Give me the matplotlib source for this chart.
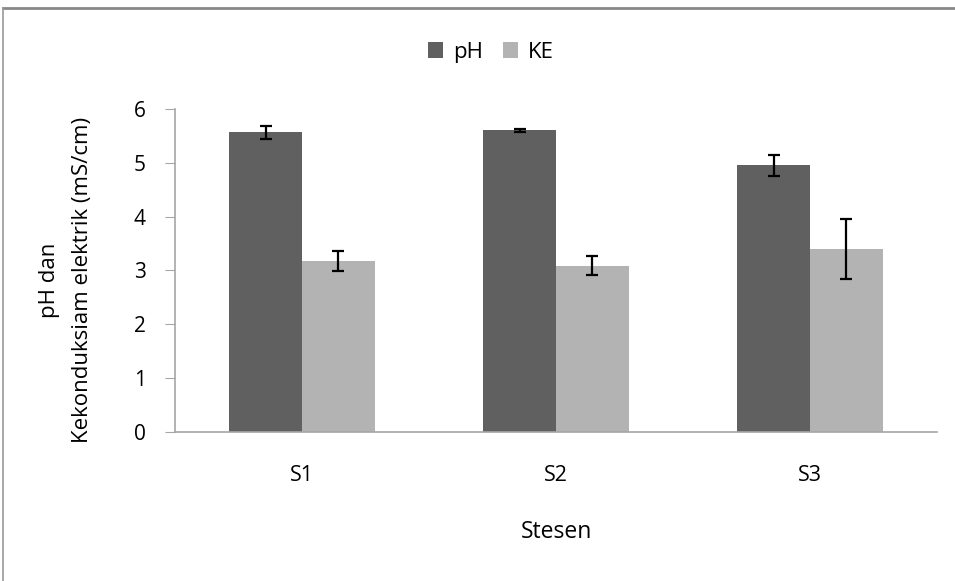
import matplotlib.pyplot as plt
import numpy as np
from matplotlib.lines import Line2D

stations = ['S1', 'S2', 'S3']
ph = [5.57, 5.60, 4.95]
ph_err = [0.12, 0.02, 0.20]
ke = [3.18, 3.09, 3.40]
ke_err = [0.19, 0.18, 0.55]

plt.rcParams['font.family'] = ['Open Sans', 'DejaVu Sans']

fig = plt.figure(figsize=(9.55, 5.81), dpi=100)
ax = fig.add_axes([0.1832, 0.2565, 0.798, 0.556])

x = np.arange(len(stations))
w = 1 / 3.5
err_kw = dict(ecolor='black', elinewidth=1.6, capsize=4, capthick=1.6)
ax.bar(x - w / 2, ph, w, color='#606060', label='pH', yerr=ph_err, error_kw=err_kw)
ax.bar(x + w / 2, ke, w, color='#b3b3b3', label='KE', yerr=ke_err, error_kw=err_kw)

ax.set_xlim(-0.5, 2.5)
ax.set_ylim(0, 6)
ax.set_yticks(range(0, 7))
ax.set_xticks(x)
ax.set_xticklabels(stations)
for s in ['top', 'right']:
    ax.spines[s].set_visible(False)
for s in ['left', 'bottom']:
    ax.spines[s].set_color('#a6a6a6')
    ax.spines[s].set_linewidth(1.2)
ax.tick_params(axis='y', colors='#a6a6a6', labelcolor='black', labelsize=15, length=7, pad=14)
ax.tick_params(axis='x', length=0, labelsize=15.5, pad=24)
ax.set_xlabel('Stesen', fontsize=16.5, labelpad=24)
ax.set_ylabel('pH dan\nKekonduksiam elektrik (mS/cm)', fontsize=16, linespacing=1.7)
ax.yaxis.set_label_coords(-0.108, 0.47)

fig.legend(loc='center', bbox_to_anchor=(0.514, 0.91), ncol=2, frameon=False, fontsize=16,
           handlelength=0.68, handleheight=0.68, handletextpad=0.45, columnspacing=0.9)

# outer chart frame (top and left edges visible)
fig.add_artist(Line2D([0.003, 1.0], [0.987, 0.987], color='#888888', lw=2, transform=fig.transFigure))
fig.add_artist(Line2D([0.003, 0.003], [0.0, 0.987], color='#999999', lw=1.2, transform=fig.transFigure))

fig.savefig('out.png', dpi=100)
